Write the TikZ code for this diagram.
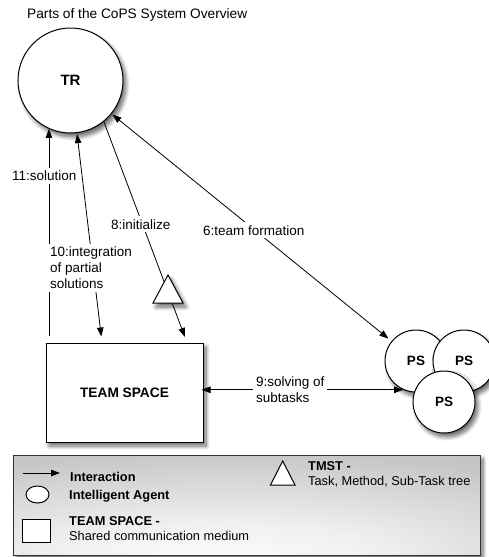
\documentclass[tikz,border=0pt]{standalone}
\usepackage{fontspec}
\setmainfont{Liberation Sans}
\usetikzlibrary{arrows.meta,shadows.blur,shapes.geometric}

% soft glow used inside the legend panel
\pgfdeclareradialshading{legendglow}{\pgfpoint{-4bp}{-32bp}}{%
  color(0bp)=(white); color(18bp)=(black!6); color(45bp)=(black!22);
  color(70bp)=(black!30); color(110bp)=(black!32)}

\begin{document}
\begin{tikzpicture}[x=1pt,y=-1pt,
  >={Triangle[length=9pt,width=6.5pt]},
  shadowed/.style={blur shadow={shadow xshift=3pt, shadow yshift=-4pt,
      shadow blur steps=8, shadow blur radius=4pt, shadow opacity=60}},
  solid shape/.style={shadowed, draw=black, line width=1pt, fill=white},
  agent/.style={solid shape, circle, inner sep=0pt,
      font=\bfseries\fontsize{13.5}{16}\selectfont},
  space/.style={solid shape, rectangle, inner sep=0pt,
      font=\bfseries\fontsize{13.7}{16}\selectfont},
  link/.style={draw=black, line width=0.8pt},
  lbl/.style={fill=white, inner sep=3pt, align=left,
      font=\fontsize{13.5}{16}\selectfont},
  legend text/.style={inner sep=0pt, anchor=base west,
      font=\fontsize{12.8}{15}\selectfont},
  legend head/.style={legend text, font=\bfseries\fontsize{12.8}{15}\selectfont},
  legend mark/.style={draw=black, line width=1pt, fill=white},
]
\useasboundingbox (0,0) rectangle (488,557);

% title
\node[inner sep=0pt, anchor=base west, font=\fontsize{13.7}{16}\selectfont]
  (title) at (27,18.5) {Parts of the CoPS System Overview};

% team roles agent and the shared space
\node[agent, minimum size=105pt, font=\bfseries\fontsize{15}{18}\selectfont]
  (tr) at (70.5,80.5) {TR};
\node[space, minimum width=157pt, minimum height=99pt] (ts) at (124.5,392.5) {TEAM SPACE};

% problem solver agents
\node[agent, minimum size=62pt] (ps1) at (416,361) {PS};
\node[agent, minimum size=62pt] (ps2) at (464,361) {PS};
\node[agent, minimum size=62pt] (ps3) at (444,402) {PS};

% interactions
\draw[link,<-,shorten >=7pt] (tr.-114) -- (tr.-114 |- ts.north);
\draw[link,<->,shorten >=6pt,shorten <=1pt] (tr.-83) -- ([xshift=-22.5pt]ts.north);
\draw[link,->,shorten >=6pt] (tr.-51) -- ([xshift=62.5pt]ts.north);
\draw[link,<->,shorten >=4pt,shorten <=1pt] (tr) -- (ps1);
\draw[link,<->,shorten <=-2pt] (ps1.246 -| ts.east) -- (ps1.246);

% task/method/sub-task tree on the initialise path
\draw[solid shape] (168,275) coordinate (tmst) -- (183,303) -- (153,303) -- cycle;

% interaction labels
\node[lbl, anchor=base west] (l11) at (9,180.5) {11:solution};
\node[lbl, anchor=west] (l10) at (47,268) {10:integration\\of partial\\solutions};
\node[lbl, anchor=base west] (l8) at (108,229) {8:initialize};
\node[lbl, anchor=base west] (l6) at (200,235) {6:team formation};
\node[lbl, anchor=west] (l9) at (253,390) {9:solving of\\subtasks};

% legend panel
\node[shadowed, draw=black!80, line width=1pt, shading=legendglow,
  minimum width=467pt, minimum height=100pt, inner sep=0pt] (legend) at (246.5,505) {};

\coordinate (ia) at (23,473);
\coordinate (ib) at (60,473);
\draw[link,->] (ia) -- (ib);
\node[legend head] (lgia) at (70,481) {Interaction};

\node[legend mark, ellipse, minimum width=23pt, minimum height=17pt, inner sep=0pt]
  (lgagent) at (37.5,494.5) {};
\node[legend head] (lgagenttext) at (69,499) {Intelligent Agent};

\node[legend mark, rectangle, minimum width=28pt, minimum height=23pt, inner sep=0pt]
  (lgspace) at (36,530.5) {};
\node[legend head] (lgspacehead) at (69,525.7) {TEAM SPACE -};
\node[legend text] (lgspacetext) at (69,540.7) {Shared communication medium};

\draw[legend mark] (282.7,461) coordinate (lgtri) -- (295,485) -- (270.5,485) -- cycle;
\node[legend head] (lgtrihead) at (308,470) {TMST -};
\node[legend text] (lgtritext) at (308,485.7) {Task, Method, Sub-Task tree};
\end{tikzpicture}
\end{document}
